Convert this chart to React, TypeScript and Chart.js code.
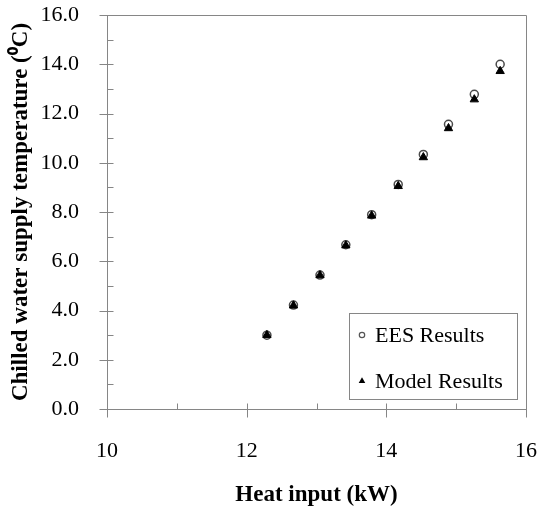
import React, { useEffect, useRef } from "react";
import { Chart, registerables } from "chart.js";

Chart.register(...registerables);

const heatInput = [12.29, 12.67, 13.05, 13.42, 13.79, 14.17, 14.53, 14.89, 15.26, 15.63];
const eesResults = [3.0, 4.22, 5.44, 6.67, 7.89, 9.12, 10.34, 11.56, 12.78, 14.0];
const modelResults = [3.0, 4.2, 5.43, 6.64, 7.85, 9.05, 10.22, 11.4, 12.57, 13.72];

const xMajor = [10, 12, 14, 16];
const xMinor = [11, 13, 15];
const yMajor = [0, 2, 4, 6, 8, 10, 12, 14, 16];
const yMinor = [1, 3, 5, 7, 9, 11, 13, 15];

const FONT = "'Liberation Serif', 'Times New Roman', serif";
const AXIS = "#868686";

const framePlugin = {
  id: "frame",
  beforeDatasetsDraw(chart: any) {
    const { ctx, chartArea: a, scales } = chart;
    const xs = scales.x;
    const ys = scales.y;
    ctx.save();
    ctx.strokeStyle = AXIS;
    ctx.lineWidth = 1;
    ctx.beginPath();
    ctx.rect(Math.round(a.left) + 0.5, Math.round(a.top) + 0.5, Math.round(a.right - a.left), Math.round(a.bottom - a.top));
    ctx.stroke();
    ctx.beginPath();
    const by = Math.round(a.bottom) + 0.5;
    const lx = Math.round(a.left) + 0.5;
    xMajor.forEach((v) => {
      const px = Math.round(xs.getPixelForValue(v)) + 0.5;
      ctx.moveTo(px, by - 6);
      ctx.lineTo(px, by + 8);
    });
    xMinor.forEach((v) => {
      const px = Math.round(xs.getPixelForValue(v)) + 0.5;
      ctx.moveTo(px, by - 6);
      ctx.lineTo(px, by);
    });
    yMajor.forEach((v) => {
      const py = Math.round(ys.getPixelForValue(v)) + 0.5;
      ctx.moveTo(lx - 8, py);
      ctx.lineTo(lx + 6, py);
    });
    yMinor.forEach((v) => {
      const py = Math.round(ys.getPixelForValue(v)) + 0.5;
      ctx.moveTo(lx, py);
      ctx.lineTo(lx + 6, py);
    });
    ctx.stroke();
    ctx.restore();
  },
  afterDraw(chart: any) {
    const { ctx } = chart;
    const ds = chart.data.datasets;
    ctx.save();
    ctx.fillStyle = "#ffffff";
    ctx.fillRect(349.5, 313.5, 168, 86);
    ctx.strokeStyle = AXIS;
    ctx.lineWidth = 1;
    ctx.strokeRect(349.5, 313.5, 168, 86);
    const rows = [335, 381];
    ctx.font = `22px ${FONT}`;
    ctx.textBaseline = "middle";
    ctx.textAlign = "left";
    ds.forEach((d: any, i: number) => {
      const y = rows[i];
      ctx.beginPath();
      if (d.pointStyle === "triangle") {
        const r = 3.8;
        ctx.fillStyle = "#000";
        ctx.moveTo(362, y - r);
        ctx.lineTo(362 + r * 0.866, y + r * 0.5);
        ctx.lineTo(362 - r * 0.866, y + r * 0.5);
        ctx.closePath();
        ctx.fill();
      } else {
        ctx.strokeStyle = "#555";
        ctx.lineWidth = 1.2;
        ctx.arc(362, y, 2.7, 0, Math.PI * 2);
        ctx.stroke();
      }
      ctx.fillStyle = "#000";
      ctx.fillText(d.label, 375, y + 1);
    });
    ctx.restore();
  },
};

function zeroPad(scale: any) {
  scale.paddingLeft = 0;
  scale.paddingRight = 0;
  scale.paddingTop = 0;
  scale.paddingBottom = 0;
}

export default function App() {
  const ref = useRef<HTMLCanvasElement>(null);
  useEffect(() => {
    if (!ref.current) return;
    const chart = new Chart(ref.current, {
      type: "scatter",
      data: {
        datasets: [
          {
            label: "EES Results",
            data: heatInput.map((x, i) => ({ x, y: eesResults[i] })),
            pointStyle: "circle",
            pointRadius: 4,
            pointBackgroundColor: "#ffffff",
            pointBorderColor: "#4a4a4a",
            pointBorderWidth: 1.5,
            order: 1,
          },
          {
            label: "Model Results",
            data: heatInput.map((x, i) => ({ x, y: modelResults[i] })),
            pointStyle: "triangle",
            pointRadius: 4.8,
            pointBackgroundColor: "#000000",
            pointBorderColor: "#000000",
            pointBorderWidth: 1,
            order: 0,
          },
        ],
      },
      options: {
        responsive: false,
        animation: false,
        layout: { padding: { top: 15, right: 15, left: 0, bottom: 0 } },
        plugins: { legend: { display: false }, tooltip: { enabled: false } },
        scales: {
          x: {
            type: "linear",
            min: 10,
            max: 16,
            grid: { display: false },
            border: { display: false },
            ticks: {
              stepSize: 2,
              color: "#000",
              padding: 21,
              maxRotation: 0,
              font: { family: FONT, size: 22 },
            },
            title: {
              display: true,
              text: "Heat input (kW)",
              color: "#000",
              font: { family: FONT, size: 23, weight: "bold" },
              padding: { top: 4, bottom: 3 },
            },
            afterFit(scale: any) {
              scale.height = 103;
              zeroPad(scale);
            },
          },
          y: {
            type: "linear",
            min: 0,
            max: 16,
            grid: { display: false },
            border: { display: false },
            ticks: {
              stepSize: 2,
              color: "#000",
              padding: 20,
              font: { family: FONT, size: 22 },
              callback: (v: any) => Number(v).toFixed(1),
            },
            title: {
              display: true,
              text: "Chilled water supply temperature (\u2070C)",
              color: "#000",
              font: { family: FONT, size: 23, weight: "bold" },
              padding: { top: 7, bottom: 7 },
            },
            afterFit(scale: any) {
              scale.width = 107;
              zeroPad(scale);
            },
          },
        },
      },
      plugins: [framePlugin],
    } as any);
    return () => chart.destroy();
  }, []);
  return (
    <div style={{ position: "fixed", left: 0, top: 0, width: 541, height: 512, background: "#fff" }}>
      <canvas ref={ref} width={541} height={512} style={{ width: 541, height: 512 }} />
    </div>
  );
}
